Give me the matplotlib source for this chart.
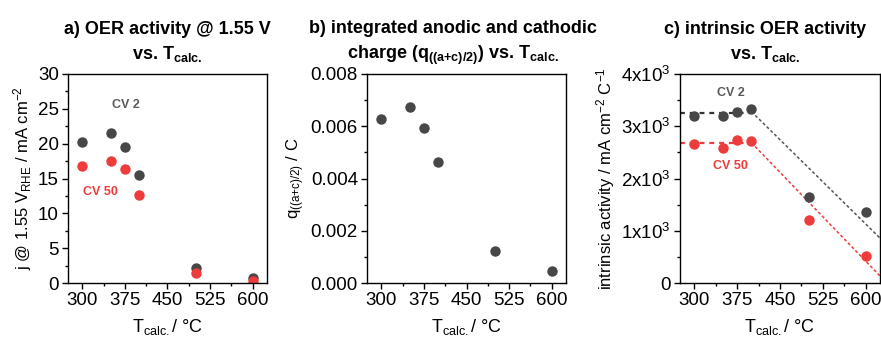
import matplotlib
matplotlib.use('Agg')
import matplotlib.pyplot as plt
from matplotlib.ticker import MultipleLocator, FixedLocator, FixedFormatter

# data
temps = [300, 350, 375, 400, 500, 600]
j_cv2 = [20.2, 21.6, 19.5, 15.5, 2.1, 0.67]
j_cv50 = [16.8, 17.5, 16.3, 12.6, 1.5, 0.3]
charge = [0.00629, 0.00672, 0.00594, 0.00462, 0.00122, 0.00046]
intr_cv2 = [3196, 3202, 3267, 3336, 1646, 1353]
intr_cv50 = [2660, 2590, 2737, 2724, 1200, 522]

# guide lines in panel c (plateau + linear drop)
flat_x = [275, 400]
slope_x = [400, 625]
fit_cv2_flat = [3250, 3250]
fit_cv2_slope = [3280, 860]
fit_cv50_flat = [2685, 2685]
fit_cv50_slope = [2685, 134]

c_tick_vals = [0, 1000, 2000, 3000, 4000]
c_tick_labels = ['0', r'1x10$^3$', r'2x10$^3$', r'3x10$^3$', r'4x10$^3$']

plt.rcParams['font.family'] = ['Liberation Sans', 'DejaVu Sans']
plt.rcParams['mathtext.fontset'] = 'custom'
plt.rcParams['mathtext.rm'] = 'Liberation Sans'
plt.rcParams['mathtext.bf'] = 'Liberation Sans:bold'
plt.rcParams['mathtext.it'] = 'Liberation Sans:italic'
plt.rcParams['mathtext.default'] = 'regular'

GRAY = '#474747'
RED = '#ee3b3b'
FS = 13.5   # tick labels
XFS = 13    # x labels
YFS = 12    # y labels
TFS = 13    # titles

fig = plt.figure(figsize=(8.81, 3.39), dpi=100)
axa = fig.add_axes([68 / 881, 56 / 339, 199 / 881, 209 / 339])
axb = fig.add_axes([367 / 881, 56 / 339, 199 / 881, 209 / 339])
axc = fig.add_axes([680 / 881, 56 / 339, 200 / 881, 209 / 339])

for ax in (axa, axb, axc):
    ax.set_xlim(275, 625)
    ax.xaxis.set_major_locator(MultipleLocator(75))
    ax.xaxis.set_minor_locator(MultipleLocator(37.5))
    ax.tick_params(which='major', direction='out', length=4, width=1, labelsize=FS, pad=2.5)
    ax.tick_params(which='minor', direction='out', length=2.5, width=1)
    for s in ax.spines.values():
        s.set_linewidth(1)
    ax.set_xlabel(r'T$_{calc.}$/ °C', fontsize=XFS, labelpad=6)

ms = 7.5

# a) OER activity
axa.plot(temps, j_cv2, 'o', color=GRAY, ms=ms, mec='none')
axa.plot(temps, j_cv50, 'o', color=RED, ms=ms, mec='none')
axa.set_ylim(0, 30)
axa.yaxis.set_major_locator(MultipleLocator(5))
axa.yaxis.set_minor_locator(MultipleLocator(2.5))
axa.set_ylabel(r'j @ 1.55 V$_{RHE}$ / mA cm$^{-2}$', fontsize=YFS, labelpad=3)
axa.text(377, 25.5, 'CV 2', color='#5a5a5a', fontsize=9, fontweight='bold', ha='center', va='center')
axa.text(332, 13.1, 'CV 50', color=RED, fontsize=9, fontweight='bold', ha='center', va='center')
axa.set_title('a) OER activity @ 1.55 V\n' + r'vs. T$_\mathbf{calc.}$',
              fontsize=TFS, fontweight='bold', pad=11, linespacing=1.4)

# b) integrated charge
axb.plot(temps, charge, 'o', color=GRAY, ms=ms, mec='none')
axb.set_ylim(0, 0.008)
axb.yaxis.set_major_locator(MultipleLocator(0.002))
axb.yaxis.set_minor_locator(MultipleLocator(0.001))
axb.yaxis.set_major_formatter(matplotlib.ticker.FormatStrFormatter('%.3f'))
axb.set_ylabel(r'q$_{((a{+}c)/2)}$ / C', fontsize=YFS, labelpad=3)
axb.set_title('b) integrated anodic and cathodic\n' + r'charge (q$_\mathbf{((a{+}c)/2)}$) vs. T$_\mathbf{calc.}$',
              fontsize=TFS, fontweight='bold', pad=11, linespacing=1.4, x=0.432)

# c) intrinsic activity
axc.plot(flat_x, fit_cv2_flat, color='#333333', lw=1.6, dashes=(2.2, 2.2))
axc.plot(slope_x, fit_cv2_slope, color='#555555', lw=1.1, dashes=(2, 1.5))
axc.plot(flat_x, fit_cv50_flat, color=RED, lw=1.6, dashes=(2.2, 2.2))
axc.plot(slope_x, fit_cv50_slope, color=RED, lw=1.1, dashes=(2, 1.5))
axc.plot(temps, intr_cv2, 'o', color=GRAY, ms=ms, mec='none', zorder=3)
axc.plot(temps, intr_cv50, 'o', color=RED, ms=ms, mec='none', zorder=3)
axc.set_ylim(0, 4000)
axc.yaxis.set_major_locator(FixedLocator(c_tick_vals))
axc.yaxis.set_major_formatter(FixedFormatter(c_tick_labels))
axc.yaxis.set_minor_locator(MultipleLocator(500))
axc.set_ylabel(r'intrinsic activity / mA cm$^{-2}$ C$^{-1}$', fontsize=YFS, labelpad=3)
axc.text(364, 3630, 'CV 2', color='#5a5a5a', fontsize=9, fontweight='bold', ha='center', va='center')
axc.text(364, 2245, 'CV 50', color=RED, fontsize=9, fontweight='bold', ha='center', va='center')
axc.set_title('c) intrinsic OER activity\n' + r'vs. T$_\mathbf{calc.}$',
              fontsize=TFS, fontweight='bold', pad=11, linespacing=1.4, x=0.425)

fig.savefig('out.png', dpi=100)
